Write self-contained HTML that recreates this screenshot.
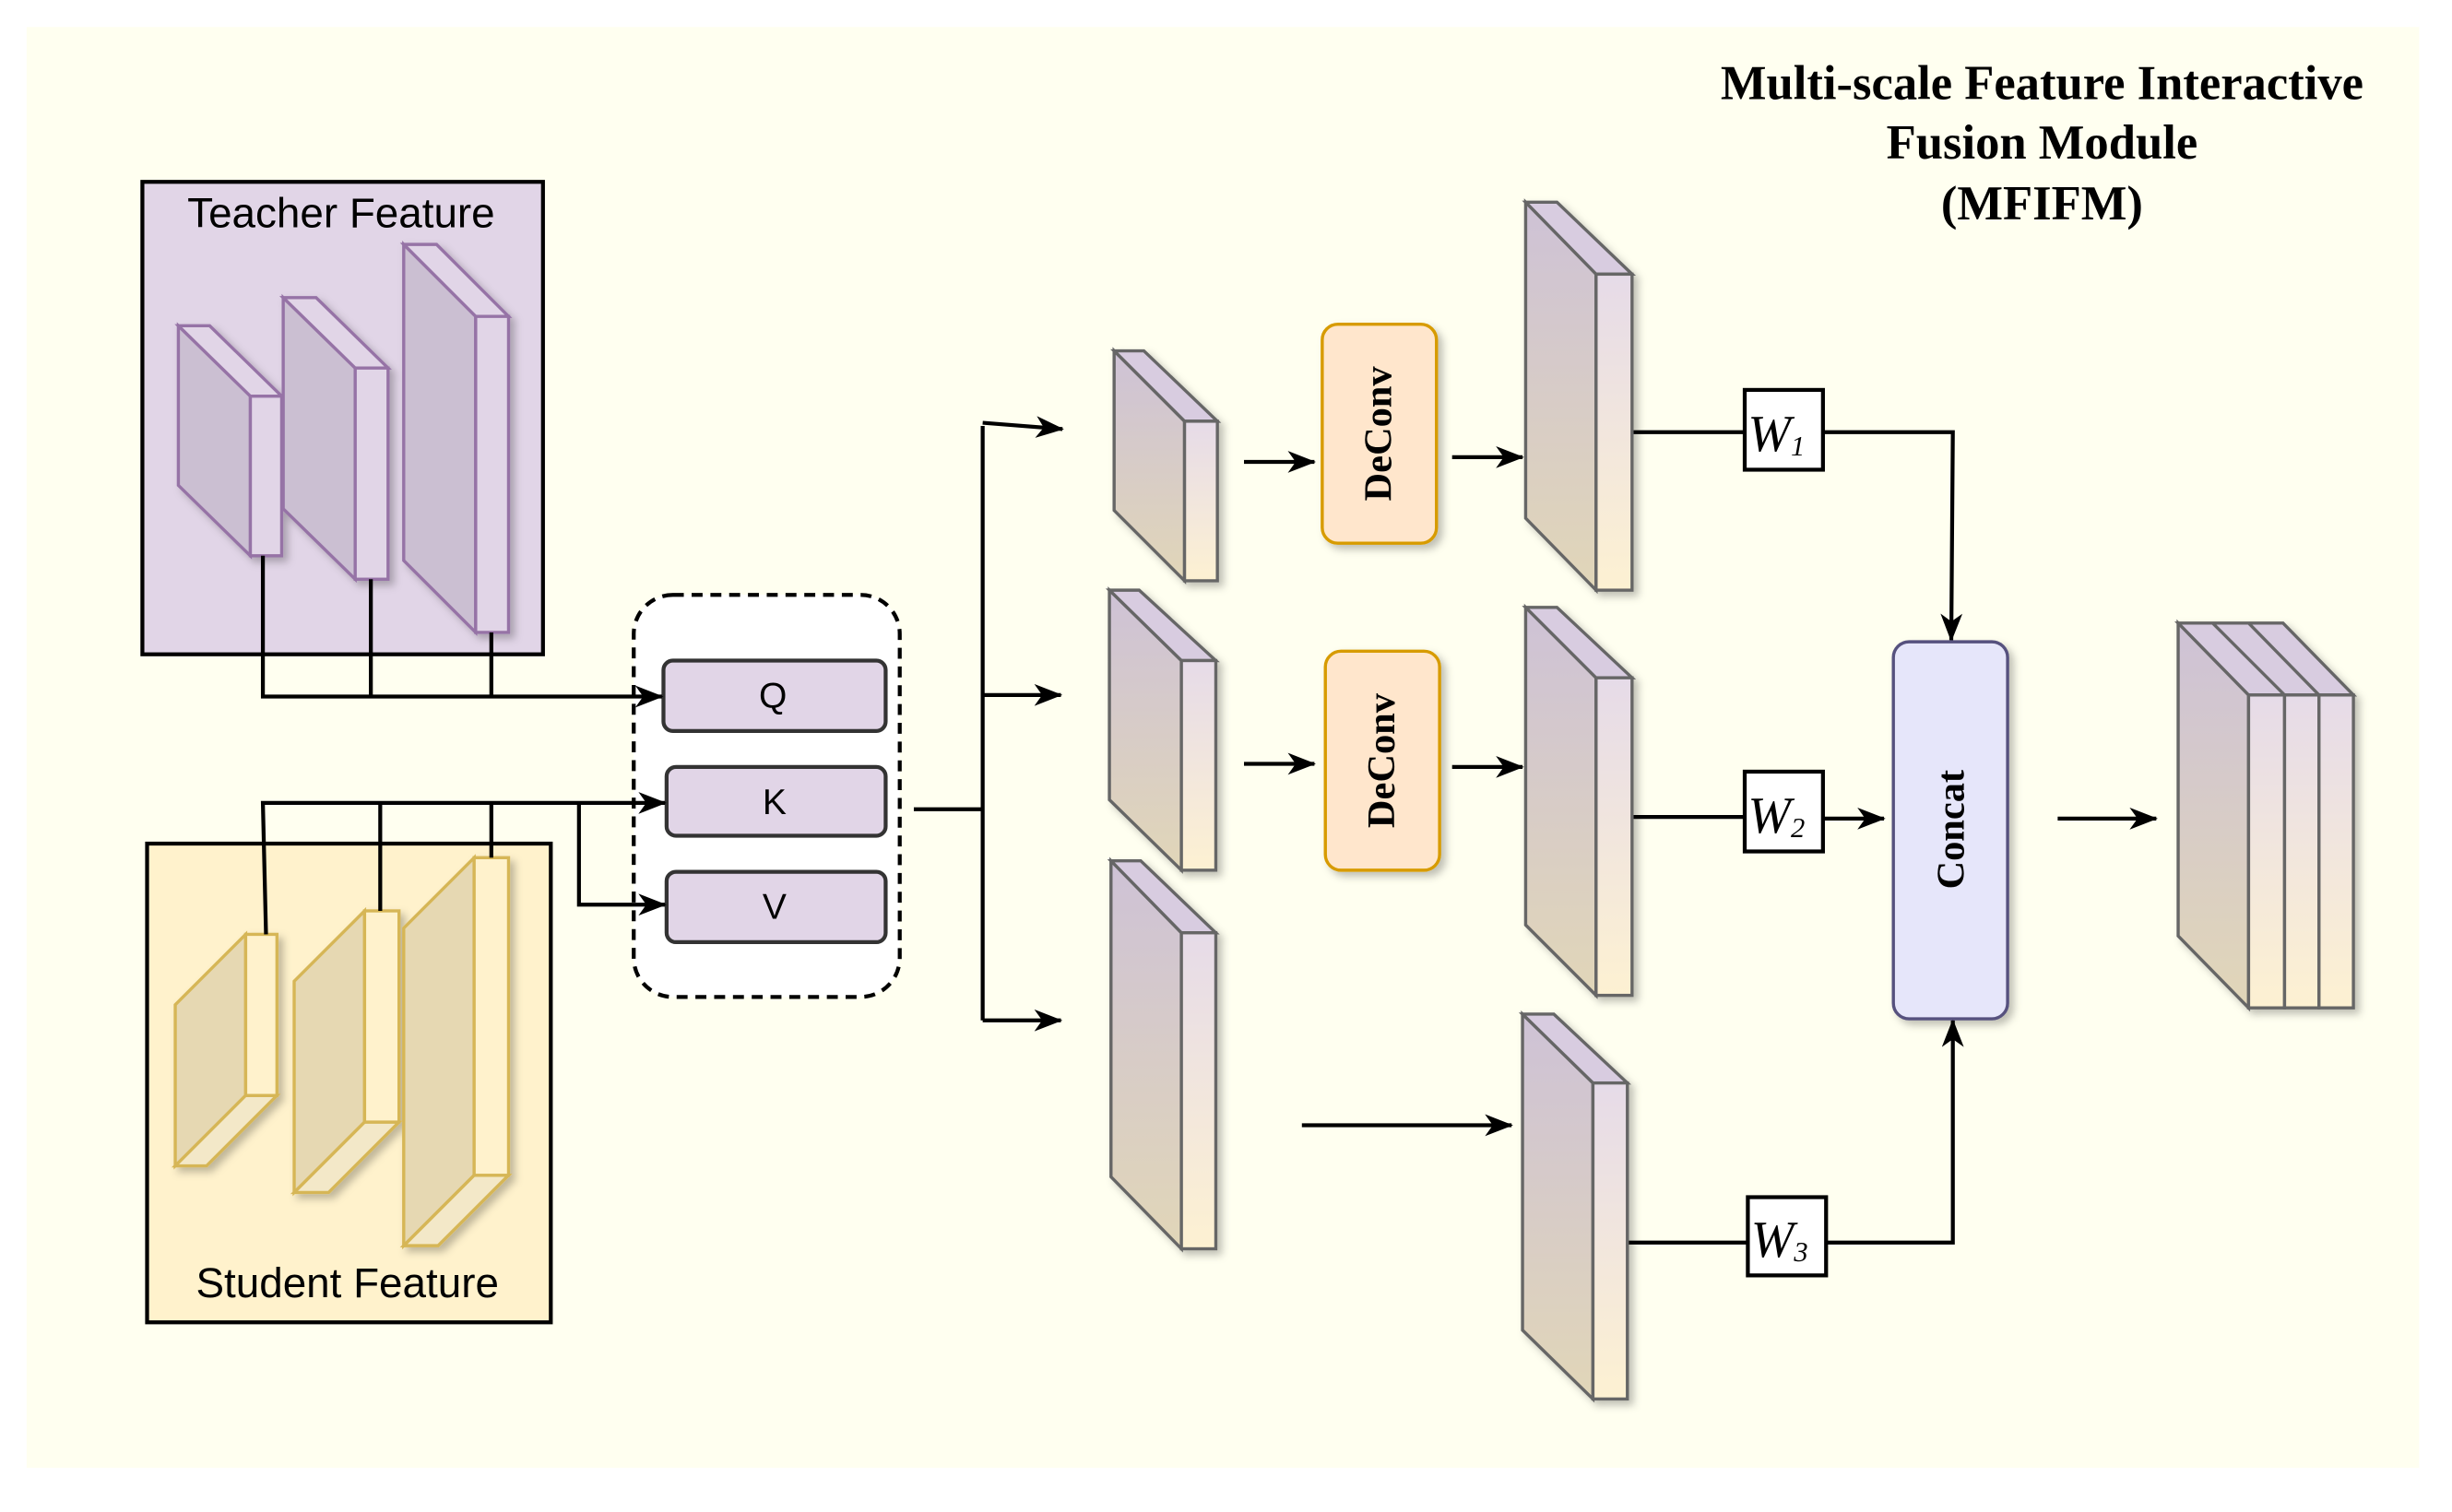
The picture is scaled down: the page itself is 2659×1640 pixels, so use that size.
<!DOCTYPE html>
<html><head><meta charset="utf-8"><style>
html,body{margin:0;padding:0;background:#fff;}
svg{display:block;}
</style></head><body>
<svg width="2659" height="1640" viewBox="0 0 1567 966" xmlns="http://www.w3.org/2000/svg">
<defs>
<linearGradient id="gb" x1="0" y1="0" x2="0" y2="1"><stop offset="0" stop-color="#cec2d6"/><stop offset="1" stop-color="#e1d6b8"/></linearGradient>
<linearGradient id="gt" x1="0" y1="0" x2="0" y2="1"><stop offset="0" stop-color="#e6dbe8"/><stop offset="1" stop-color="#fdf1d2"/></linearGradient>
<filter id="sh" x="-20%" y="-20%" width="150%" height="150%"><feDropShadow dx="3" dy="3" stdDeviation="2.5" flood-color="#000" flood-opacity="0.25"/></filter>
<marker id="ar" markerWidth="18" markerHeight="14" refX="17" refY="7" orient="auto" markerUnits="userSpaceOnUse" viewBox="0 0 18 14"><path d="M0,0 L18,7 L0,14 L5,7 z" fill="#000"/></marker>
</defs>
<rect x="0" y="0" width="1567" height="966" fill="#fff"/>
<rect x="17" y="17" width="1529" height="921" fill="#fffff0"/>

<rect x="91" y="116" width="256" height="302" fill="#e1d5e7" stroke="#000" stroke-width="2.5"/>
<text x="218" y="145" font-family="Liberation Sans, sans-serif" font-size="27" text-anchor="middle">Teacher Feature</text>
<g stroke="#9673a6" stroke-width="2" filter="url(#sh)">
<polygon points="114,208 160,253 160,355 114,310" fill="#cbbfd2"/>
<polygon points="114,208 134,208 180,253 160,253" fill="#e1d5e7"/>
<rect x="160" y="253" width="20" height="102" fill="#e1d5e7"/>
<polygon points="181,190 227,235 227,370 181,325" fill="#cbbfd2"/>
<polygon points="181,190 202,190 248,235 227,235" fill="#e1d5e7"/>
<rect x="227" y="235" width="21" height="135" fill="#e1d5e7"/>
<polygon points="258,156 304,202 304,404 258,358" fill="#cbbfd2"/>
<polygon points="258,156 279,156 325,202 304,202" fill="#e1d5e7"/>
<rect x="304" y="202" width="21" height="202" fill="#e1d5e7"/>
</g>

<rect x="94" y="539" width="258" height="306" fill="#fff2cc" stroke="#000" stroke-width="2.5"/>
<text x="222" y="829" font-family="Liberation Sans, sans-serif" font-size="27" text-anchor="middle">Student Feature</text>
<g stroke="#d6b656" stroke-width="2" filter="url(#sh)">
<polygon points="157,597 112,642 112,745 157,700" fill="#e6d8b2"/>
<polygon points="157,700 177,700 132,745 112,745" fill="#f3e8c8"/>
<rect x="157" y="597" width="20" height="103" fill="#fff2cc"/>
<polygon points="233,582 188,627 188,762 233,717" fill="#e6d8b2"/>
<polygon points="233,717 255,717 210,762 188,762" fill="#f3e8c8"/>
<rect x="233" y="582" width="22" height="135" fill="#fff2cc"/>
<polygon points="303,548 258,593 258,796 303,751" fill="#e6d8b2"/>
<polygon points="303,751 325,751 280,796 258,796" fill="#f3e8c8"/>
<rect x="303" y="548" width="22" height="203" fill="#fff2cc"/>
</g>

<rect x="405" y="380" width="170" height="257" rx="25" fill="#fff" stroke="#000" stroke-width="2.5" stroke-dasharray="7,5"/>
<g stroke="#333" stroke-width="2.5" fill="#e1d5e7">
<rect x="424" y="422" width="142" height="45" rx="6"/>
<rect x="426" y="490" width="140" height="44" rx="6"/>
<rect x="426" y="557" width="140" height="45" rx="6"/>
</g>
<g font-family="Liberation Sans, sans-serif" font-size="23" text-anchor="middle">
<text x="494" y="452">Q</text><text x="495" y="520">K</text><text x="495" y="587">V</text>
</g>

<g stroke="#000" stroke-width="2.5" fill="none">
<path d="M168,355 V445 H423" marker-end="url(#ar)"/>
<path d="M237,370 V445"/><path d="M314,404 V445"/>
<path d="M170,597 L168,513 H425" marker-end="url(#ar)"/>
<path d="M243,582 V513"/><path d="M314,548 V513"/>
<path d="M370,513 V578 H425" marker-end="url(#ar)"/>
<path d="M584,517 H628"/>
<path d="M628,272 V652"/>
<path d="M628,270 L679,274" marker-end="url(#ar)"/>
<path d="M628,444 H678" marker-end="url(#ar)"/>
<path d="M628,652 H678" marker-end="url(#ar)"/>
<path d="M795,295 H840" marker-end="url(#ar)"/>
<path d="M928,292 H973" marker-end="url(#ar)"/>
<path d="M795,488 H840" marker-end="url(#ar)"/>
<path d="M928,490 H973" marker-end="url(#ar)"/>
<path d="M832,719 H966" marker-end="url(#ar)"/>
<path d="M1043,276 H1115"/>
<path d="M1165,276 H1248 L1247,409" marker-end="url(#ar)"/>
<path d="M1043,522 H1115"/>
<path d="M1165,523 H1204" marker-end="url(#ar)"/>
<path d="M1040,794 H1117"/>
<path d="M1167,794 H1248 V652" marker-end="url(#ar)"/>
<path d="M1315,523 H1378" marker-end="url(#ar)"/>
</g>

<g stroke="#666" stroke-width="2" filter="url(#sh)">
<polygon points="712,224 757,269 757,371 712,326" fill="url(#gb)"/>
<polygon points="712,224 731,224 778,269 757,269" fill="#d8cce0"/>
<rect x="757" y="269" width="21" height="102" fill="url(#gt)"/>
<polygon points="709,377 755,422 755,556 709,511" fill="url(#gb)"/>
<polygon points="709,377 728,377 777,422 755,422" fill="#d8cce0"/>
<rect x="755" y="422" width="22" height="134" fill="url(#gt)"/>
<polygon points="710,550 755,596 755,798 710,752" fill="url(#gb)"/>
<polygon points="710,550 729,550 777,596 755,596" fill="#d8cce0"/>
<rect x="755" y="596" width="22" height="202" fill="url(#gt)"/>
<polygon points="975,129 1020,175 1020,377 975,331" fill="url(#gb)"/>
<polygon points="975,129 995,129 1043,175 1020,175" fill="#d8cce0"/>
<rect x="1020" y="175" width="23" height="202" fill="url(#gt)"/>
<polygon points="975,388 1020,433 1020,636 975,591" fill="url(#gb)"/>
<polygon points="975,388 995,388 1043,433 1020,433" fill="#d8cce0"/>
<rect x="1020" y="433" width="23" height="203" fill="url(#gt)"/>
<polygon points="973,648 1018,692 1018,894 973,850" fill="url(#gb)"/>
<polygon points="973,648 993,648 1040,692 1018,692" fill="#d8cce0"/>
<rect x="1018" y="692" width="22" height="202" fill="url(#gt)"/>
<polygon points="1392,398 1437,444 1437,644 1392,598" fill="url(#gb)"/>
<polygon points="1392,398 1459,398 1504,444 1437,444" fill="#d8cce0"/>
<line x1="1414" y1="398" x2="1460" y2="444"/>
<line x1="1437" y1="398" x2="1482" y2="444"/>
<rect x="1437" y="444" width="23" height="200" fill="url(#gt)"/>
<rect x="1460" y="444" width="22" height="200" fill="url(#gt)"/>
<rect x="1482" y="444" width="22" height="200" fill="url(#gt)"/>
</g>

<g filter="url(#sh)" stroke-width="2">
<rect x="845" y="207" width="73" height="140" rx="10" fill="#ffe6cc" stroke="#d79b00"/>
<rect x="847" y="416" width="73" height="140" rx="10" fill="#ffe6cc" stroke="#d79b00"/>
<rect x="1210" y="410" width="73" height="241" rx="10" fill="#e6e6fa" stroke="#56517e"/>
</g>
<g font-family="Liberation Serif, serif" font-weight="bold" font-size="25" text-anchor="middle">
<text transform="translate(889,277) rotate(-90)">DeConv</text>
<text transform="translate(891,486) rotate(-90)">DeConv</text>
<text transform="translate(1255,530) rotate(-90)">Concat</text>
</g>

<g fill="#fff" stroke="#000" stroke-width="2.5">
<rect x="1115" y="249" width="50" height="51"/>
<rect x="1115" y="493" width="50" height="51"/>
<rect x="1117" y="765" width="50" height="50"/>
</g>
<g font-family="Liberation Serif, serif" font-style="italic">
<text x="1117" y="288" font-size="33">W<tspan font-size="18" dy="3">1</tspan></text>
<text x="1117" y="532" font-size="33">W<tspan font-size="18" dy="3">2</tspan></text>
<text x="1119" y="803" font-size="33">W<tspan font-size="18" dy="3">3</tspan></text>
</g>

<g font-family="Liberation Serif, serif" font-weight="bold" font-size="31" text-anchor="middle">
<text x="1305" y="63">Multi-scale Feature Interactive</text>
<text x="1305" y="101">Fusion Module</text>
<text x="1305" y="140">(MFIFM)</text>
</g>
</svg>
</body></html>
